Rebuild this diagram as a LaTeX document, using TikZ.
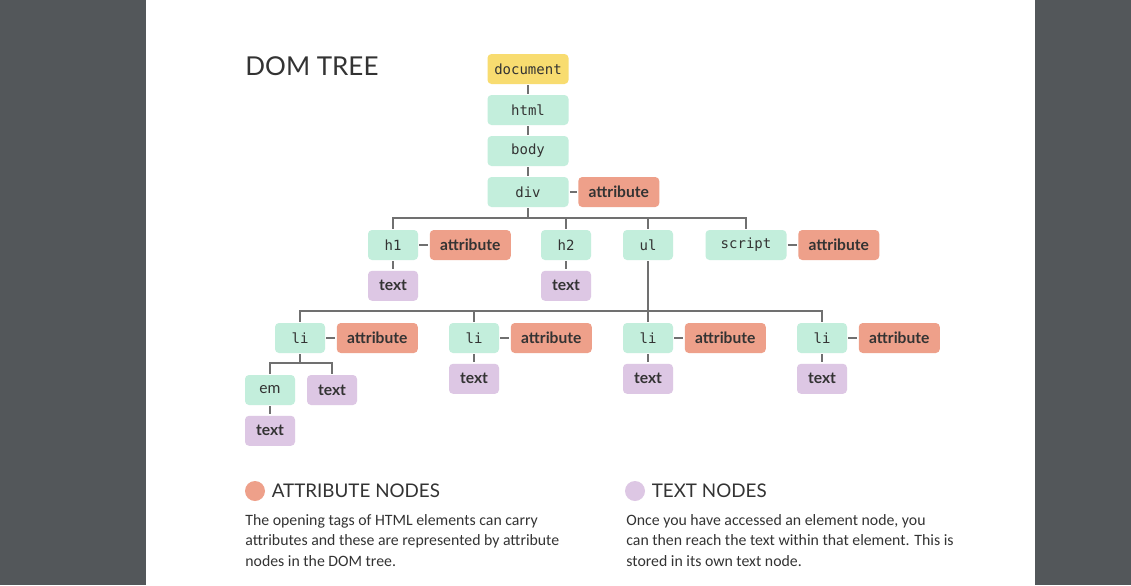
\documentclass[tikz,border=0pt]{standalone}
\usepackage{fontspec}
\setmainfont{Carlito}
\setsansfont{Lato}
\setmonofont{DejaVu Sans Mono}
\usepackage{tikz}
\usetikzlibrary{positioning}
\definecolor{domyellow}{HTML}{F8DC70}
\definecolor{domgreen}{HTML}{C3EEDC}
\definecolor{domsalmon}{HTML}{EEA08A}
\definecolor{domlilac}{HTML}{DDC7E4}
\definecolor{domline}{HTML}{707070}
\definecolor{domink}{HTML}{333333}
\definecolor{pagegray}{HTML}{53575A}

\begin{document}
\begin{tikzpicture}[x=0.5pt,y=-0.5pt,
  node distance=5pt and 5.5pt,
  elem/.style={rounded corners=2pt,fill=domgreen,minimum width=25pt,minimum height=15pt,inner sep=0pt,text=domink,font=\ttfamily\fontsize{7}{8}\selectfont},
  wide/.style={minimum width=40.5pt},
  attr/.style={rounded corners=2pt,fill=domsalmon,minimum width=40.5pt,minimum height=15pt,inner sep=0pt,text=domink,font=\sffamily\bfseries\fontsize{7.8}{8}\selectfont},
  txt/.style={rounded corners=2pt,fill=domlilac,minimum width=25pt,minimum height=15pt,inner sep=0pt,text=domink,font=\sffamily\bfseries\fontsize{7.8}{8}\selectfont},
  link/.style={draw=domline,line width=0.6pt,shorten <=0.5pt,shorten >=0.5pt},
  dot/.style={circle,minimum size=10pt,inner sep=0pt},
  head/.style={anchor=west,inner sep=0pt,text=domink,font=\sffamily\fontsize{9.4}{10}\selectfont},
  desc/.style={anchor=north west,align=left,inner sep=0pt,text=domink,font=\fontsize{7.9}{10.25}\selectfont}]
  \useasboundingbox (0,0) rectangle (1131,585);
  \fill[pagegray] (0,0) rectangle (1131,585);
  \fill[white] (146,0) rectangle (1035,585);
  \node[anchor=west,inner sep=0pt,text=domink,font=\sffamily\fontsize{13}{14}\selectfont] (title) at (245,66) {DOM TREE};
  % main trunk
  \node[elem,wide,fill=domyellow] (document) at (528,69) {document};
  \node[elem,wide] (html) at (528,110) {html};
  \node[elem,wide] (body) at (528,151) {body};
  \node[elem,wide] (div) at (528,192) {div};
  \node[attr,right=4.5pt of div] (divattr) {attribute};
  \draw[link] (document) -- (html); \draw[link] (html) -- (body);
  \draw[link] (body) -- (div); \draw[link] (div) -- (divattr);
  % children of div
  \node[elem] (h1) at (393,245) {h1};
  \node[attr,right=of h1] (h1attr) {attribute};
  \node[txt,below=of h1] (h1text) {text};
  \node[elem] (h2) at (566,245) {h2};
  \node[txt,below=of h2] (h2text) {text};
  \node[elem] (ul) at (648,245) {ul};
  \node[elem,wide] (script) at (746,245) {script};
  \node[attr,right=of script] (scriptattr) {attribute};
  \coordinate (bar1) at (528,218);
  \draw[link] (div) -- (bar1);
  \draw[link] (h1.north) |- (bar1) -| (script.north);
  \draw[link] (h2.north) -- (h2.north |- bar1);
  \draw[link] (ul.north) -- (ul.north |- bar1);
  \draw[link] (h1) -- (h1attr); \draw[link] (script) -- (scriptattr);
  \draw[link] (h1) -- (h1text); \draw[link] (h2) -- (h2text);
  % list items
  \foreach \i/\x in {1/300,2/474,3/648,4/822}{
    \node[elem] (li\i) at (\x,338) {li};
    \node[attr,right=of li\i] (li\i attr) {attribute};
    \draw[link] (li\i) -- (li\i attr);
  }
  \foreach \i in {2,3,4}{
    \node[txt,below=of li\i] (li\i text) {text};
    \draw[link] (li\i) -- (li\i text);
  }
  \coordinate (bar2) at (648,311);
  \draw[link] (ul) -- (bar2);
  \draw[link] (li1.north) |- (bar2) -| (li4.north);
  \draw[link] (li2.north) -- (li2.north |- bar2);
  \draw[link] (li3.north) -- (li3.north |- bar2);
  % children of the first li
  \node[elem,font=\sffamily\fontsize{7.8}{8}\selectfont] (em) at (270,390) {em};
  \node[txt] (li1text) at (332,390) {text};
  \node[txt,below=of em] (emtext) {text};
  \coordinate (bar3) at (300,363);
  \draw[link] (li1) -- (bar3);
  \draw[link] (em.north) |- (bar3) -| (li1text.north);
  \draw[link] (em) -- (emtext);
  % legend
  \node[dot,fill=domsalmon] (attrdot) at (255,491) {};
  \node[head,right=3pt of attrdot] (attrhead) {ATTRIBUTE NODES};
  \node[desc] (attrdesc) at (245,514) {The opening tags of HTML elements can carry\\attributes and these are represented by attribute\\nodes in the DOM tree.};
  \node[dot,fill=domlilac] (textdot) at (635,491) {};
  \node[head,right=3pt of textdot] (texthead) {TEXT NODES};
  \node[desc] (textdesc) at (626,514) {Once you have accessed an element node, you\\can then reach the text within that element. This is\\stored in its own text node.};
\end{tikzpicture}
\end{document}
